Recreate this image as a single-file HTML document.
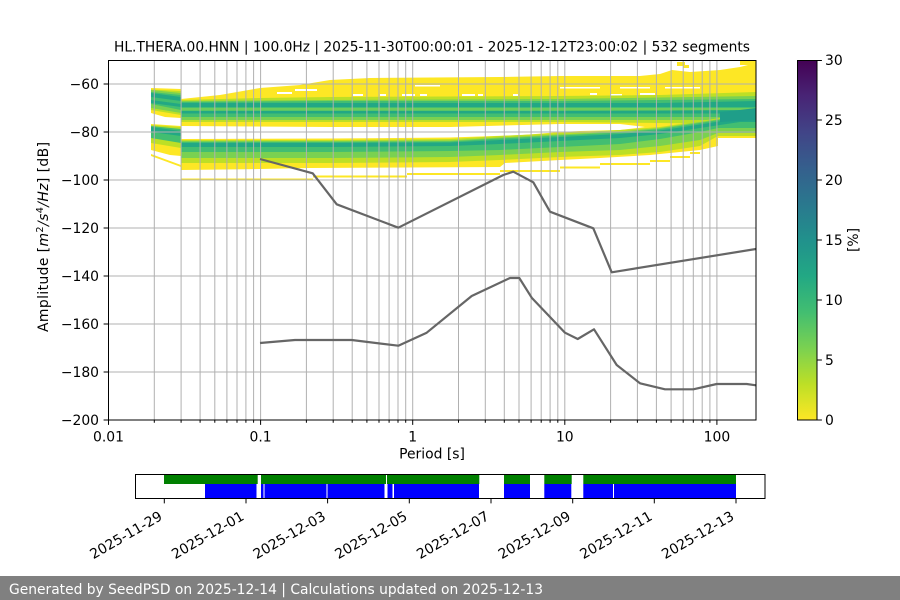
<!DOCTYPE html>
<html><head><meta charset="utf-8">
<style>
html,body{margin:0;padding:0;background:#fff;}
svg{display:block;font-family:"DejaVu Sans","Liberation Sans",sans-serif;}
</style></head><body>
<svg width="900" height="600" viewBox="0 0 900 600" xmlns="http://www.w3.org/2000/svg">
<defs>
<clipPath id="ax"><rect x="108.5" y="60" width="647.5" height="360"/></clipPath>
<linearGradient id="vir" x1="0" y1="1" x2="0" y2="0">
 <stop offset="0" stop-color="#fde725"/>
 <stop offset="0.1" stop-color="#bddf26"/>
 <stop offset="0.2" stop-color="#7ad151"/>
 <stop offset="0.3" stop-color="#42be71"/>
 <stop offset="0.4" stop-color="#22a884"/>
 <stop offset="0.5" stop-color="#21918c"/>
 <stop offset="0.6" stop-color="#2a788e"/>
 <stop offset="0.7" stop-color="#355f8d"/>
 <stop offset="0.8" stop-color="#414487"/>
 <stop offset="0.9" stop-color="#482475"/>
 <stop offset="1" stop-color="#440154"/>
</linearGradient>
</defs>

<!-- Title -->
<text x="432" y="51.5" text-anchor="middle" font-size="13.9" textLength="636" lengthAdjust="spacingAndGlyphs">HL.THERA.00.HNN | 100.0Hz | 2025-11-30T00:00:01 - 2025-12-12T23:00:02 | 532 segments</text>

<!-- PPSD mesh -->
<g clip-path="url(#ax)">
 <!-- yellow envelope main -->
 <polygon fill="#fde725" points="181,99 220,95 260,88 300,85 330,80 370,78 500,77 560,76 640,76 660,74 672,70 690,72 720,70 740,67 756,63 756,138 718,138 718,146 700,150 680,152 650,155 600,158 560,160 505,163 500,167 310,168 260,169 181,170"/>
 <rect x="677" y="62" width="8" height="4" fill="#fde725"/>
 <rect x="683" y="65" width="6" height="3" fill="#fde725"/>
 <rect x="740" y="60" width="16" height="5" fill="#fde725"/>
 <!-- thin yellow line below -->
 <polygon fill="#fde725" points="181,178.5 313,178.5 313,175.5 407,175.5 407,173 500,173 500,170 560,170 560,166.5 600,166.5 600,163 650,163 650,160 670,160 670,156 690,156 690,152 700,152 700,154 690,154 690,158 670,158 670,162 650,162 650,165 600,165 600,168.5 560,168.5 560,172 500,172 500,175 407,175 407,177.5 313,177.5 313,180.5 181,180.5"/>
 <!-- gap -->
 <polygon fill="#fff" points="181,126 330,127 450,127 560,124 620,124 645,127 620,130 580,131 560,132 523,135 450,137.5 330,138.5 181,139"/>
 <!-- white dashes -->
 <g fill="#fff">
  <rect x="277" y="92" width="15" height="2"/>
  <rect x="295" y="89" width="22" height="2"/>
  <rect x="353" y="94" width="10" height="2"/>
  <rect x="380" y="94" width="6" height="2"/>
  <rect x="402" y="94" width="13" height="2"/>
  <rect x="420" y="94" width="7" height="2"/>
  <rect x="415" y="85" width="25" height="1.5"/>
  <rect x="462" y="94" width="13" height="2"/>
  <rect x="478" y="94" width="5" height="2"/>
  <rect x="513" y="94" width="5" height="2"/>
  <rect x="590" y="93" width="7" height="2"/>
  <rect x="560" y="87" width="40" height="1.5"/>
  <rect x="620" y="87" width="30" height="1.5"/>
  <rect x="665" y="87" width="35" height="1.5"/>
  <rect x="610" y="94" width="12" height="2"/>
  <rect x="640" y="93" width="15" height="2"/>
 </g>
 <!-- upper band inner -->
 <polygon fill="#bddf26" points="181,100 260,98 330,97 560,96 660,95 756,92 756,124 660,123 560,122 330,122 181,122"/>
 <polygon fill="#7ad151" points="181,101 330,100 560,99 756,96 756,120 560,120 330,120 181,120"/>
 <polygon fill="#42be71" points="181,102 330,101 560,101 756,99 756,117 560,117 330,117 181,117"/>
 <polygon fill="#22a884" points="181,103 330,103 560,103 660,103 756,101 756,107 660,107 560,107 330,107 181,107"/>
 <polygon fill="#6ccd5a" points="181,108 756,108 756,110.5 181,110.5"/>
 <polygon fill="#22a884" points="181,111 560,111 756,110 756,113.5 560,113.5 181,113.5"/>
 <!-- lower band inner -->
 <polygon fill="#bddf26" points="181,140 330,140 450,139 500,136 560,133 620,130 660,127 700,121 740,115 756,112 756,136 718,136 700,146 660,152 620,155 560,157 500,160 450,162 330,163 181,163"/>
 <polygon fill="#7ad151" points="181,141 330,141 450,140.5 500,137.5 560,134.5 620,131.5 660,128 700,122 740,116 756,113 756,133 718,133 700,140 660,146 620,150 560,152 500,155 450,157 330,158 181,158"/>
 <polygon fill="#42be71" points="181,142 330,142 450,141.5 500,138.5 560,135.5 620,132.5 660,129 700,123 740,116.5 756,113.5 756,128 718,128 700,132 660,139 620,144 560,147 500,150 450,151 330,152 181,152"/>
 <polygon fill="#22a884" points="181,143 330,143 450,142.5 500,140 560,137 620,134 660,130.5 700,124.5 740,118 756,115 756,122 740,122 700,128 660,134 620,138 560,141 500,144 450,146 330,147 181,147"/>
 <polygon fill="#1f9e89" points="720,112 740,110 756,108 756,120 740,121 720,122"/>
 <!-- left block upper -->
 <polygon fill="#fde725" points="151,88 181,89 181,118 165,117 151,113"/>
 <polygon fill="#bddf26" points="151,89.5 181,91 181,115 151,110"/>
 <polygon fill="#7ad151" points="151,90 181,93 181,113 151,108"/>
 <polygon fill="#42be71" points="151,92 181,95 181,110 151,104"/>
 <polygon fill="#22a884" points="151,93 181,97 181,101 151,97"/>
 <polygon fill="#22a884" points="151,100 181,104 181,107 151,103"/>
 <!-- left block lower -->
 <polygon fill="#fde725" points="151,124 181,126 181,156 170,155 151,150"/>
 <polygon fill="#fde725" points="151,154 181,165 181,167 151,156"/>
 <polygon fill="#bddf26" points="151,125 181,127 181,148 151,143"/>
 <polygon fill="#42be71" points="151,126 181,129 181,143 151,138"/>
 <polygon fill="#22a884" points="151,127 181,131 181,136 151,132"/>
</g>

<!-- Grid -->
<g stroke="#b0b0b0" stroke-width="1" fill="none">
 <path d="M154.3 60V420M181.1 60V420M200.1 60V420M214.8 60V420M226.9 60V420M237 60V420M245.9 60V420M253.6 60V420M260.6 60V420
 M306.4 60V420M333.2 60V420M352.2 60V420M366.9 60V420M379 60V420M389.1 60V420M398 60V420M405.7 60V420M412.7 60V420
 M458.5 60V420M485.3 60V420M504.3 60V420M519 60V420M531.1 60V420M541.2 60V420M550.1 60V420M557.8 60V420M564.8 60V420
 M610.6 60V420M637.4 60V420M656.4 60V420M671.1 60V420M683.2 60V420M693.3 60V420M702.2 60V420M709.9 60V420M716.9 60V420"/>
 <path d="M108.5 84H756M108.5 132H756M108.5 180H756M108.5 228H756M108.5 276H756M108.5 324H756M108.5 372H756"/>
</g>

<!-- Noise models -->
<g clip-path="url(#ax)" fill="none" stroke="#666666" stroke-width="2.2" stroke-linejoin="round">
 <polyline points="260,159 312.7,173.3 336.7,204.3 398.3,227.7 503.3,175 513.3,171.7 533.3,182.3 550,211.7 593.3,228.3 611.7,272.3 756,249"/>
 <polyline points="260,343 295,340 351.7,340 398.3,345.7 426.7,332.7 471.7,296 510,278 519.3,278 531.7,297.7 565,332.7 577.7,339 594,329.3 616.7,365 640,383.3 665,389.3 693.3,389.3 716.7,384 746.7,384 756,385.3"/>
</g>

<!-- Axes frame -->
<rect x="108.5" y="60.5" width="647.5" height="359.5" fill="none" stroke="#000" stroke-width="1"/>

<!-- x ticks -->
<g stroke="#000" stroke-width="1">
 <path d="M108.5 420v4.9M260.6 420v4.9M412.7 420v4.9M564.8 420v4.9M716.9 420v4.9"/>
 <path d="M154.3 420v2.8M181.1 420v2.8M200.1 420v2.8M214.8 420v2.8M226.9 420v2.8M237 420v2.8M245.9 420v2.8M253.6 420v2.8
 M306.4 420v2.8M333.2 420v2.8M352.2 420v2.8M366.9 420v2.8M379 420v2.8M389.1 420v2.8M398 420v2.8M405.7 420v2.8
 M458.5 420v2.8M485.3 420v2.8M504.3 420v2.8M519 420v2.8M531.1 420v2.8M541.2 420v2.8M550.1 420v2.8M557.8 420v2.8
 M610.6 420v2.8M637.4 420v2.8M656.4 420v2.8M671.1 420v2.8M683.2 420v2.8M693.3 420v2.8M702.2 420v2.8M709.9 420v2.8"/>
 <path d="M103.6 84h4.9M103.6 132h4.9M103.6 180h4.9M103.6 228h4.9M103.6 276h4.9M103.6 324h4.9M103.6 372h4.9M103.6 420h4.9"/>
</g>
<g font-size="13.9" fill="#000" text-anchor="middle">
 <text x="108.5" y="441.5">0.01</text>
 <text x="260.6" y="441.5">0.1</text>
 <text x="412.7" y="441.5">1</text>
 <text x="564.8" y="441.5">10</text>
 <text x="716.9" y="441.5">100</text>
 <text x="432" y="458.5">Period [s]</text>
</g>
<g font-size="13.9" fill="#000" text-anchor="end">
 <text x="99" y="89">−60</text>
 <text x="99" y="137">−80</text>
 <text x="99" y="185">−100</text>
 <text x="99" y="233">−120</text>
 <text x="99" y="281">−140</text>
 <text x="99" y="329">−160</text>
 <text x="99" y="377">−180</text>
 <text x="99" y="425">−200</text>
</g>
<text transform="translate(48,237) rotate(-90)" text-anchor="middle" font-size="13.9" textLength="190" lengthAdjust="spacing">Amplitude [<tspan font-style="italic">m</tspan><tspan font-size="9.7" dy="-5">2</tspan><tspan font-style="italic" dy="5">/s</tspan><tspan font-size="9.7" dy="-5">4</tspan><tspan font-style="italic" dy="5">/Hz</tspan>] [dB]</text>

<!-- Colorbar -->
<rect x="797" y="60" width="20" height="360" fill="url(#vir)"/>
<rect x="797.5" y="60.5" width="19.5" height="359.5" fill="none" stroke="#000" stroke-width="1"/>
<g stroke="#000" stroke-width="1">
 <path d="M817 420h4.9M817 360h4.9M817 300h4.9M817 240h4.9M817 180h4.9M817 120h4.9M817 60.5h4.9"/>
</g>
<g font-size="13.9" fill="#000">
 <text x="825" y="425">0</text>
 <text x="825" y="365">5</text>
 <text x="825" y="305">10</text>
 <text x="825" y="245">15</text>
 <text x="825" y="185">20</text>
 <text x="825" y="125">25</text>
 <text x="825" y="65">30</text>
</g>
<text transform="translate(858,240) rotate(-90)" text-anchor="middle" font-size="13.9">[%]</text>

<!-- Timeline -->
<g fill="#008000">
 <rect x="164" y="474.5" width="93.7" height="9.5"/>
 <rect x="261" y="474.5" width="125" height="9.5"/>
 <rect x="387" y="474.5" width="92.3" height="9.5"/>
 <rect x="504" y="474.5" width="26" height="9.5"/>
 <rect x="544.3" y="474.5" width="27.4" height="9.5"/>
 <rect x="583.3" y="474.5" width="152.7" height="9.5"/>
</g>
<g fill="#0000ff">
 <rect x="205" y="484" width="51.5" height="14.5"/>
 <rect x="261" y="484" width="2.5" height="14.5"/>
 <rect x="264.5" y="484" width="62" height="14.5"/>
 <rect x="327.5" y="484" width="57" height="14.5"/>
 <rect x="387.5" y="484" width="5" height="14.5"/>
 <rect x="394" y="484" width="85" height="14.5"/>
 <rect x="504" y="484" width="26" height="14.5"/>
 <rect x="544.3" y="484" width="27" height="14.5"/>
 <rect x="583.3" y="484" width="29.7" height="14.5"/>
 <rect x="614" y="484" width="122" height="14.5"/>
</g>
<rect x="135.5" y="474.5" width="629.5" height="24" fill="none" stroke="#000" stroke-width="1"/>
<g stroke="#000" stroke-width="1">
 <path d="M164.3 498.5v4.9M246 498.5v4.9M327.6 498.5v4.9M409.3 498.5v4.9M491 498.5v4.9M572.7 498.5v4.9M654.3 498.5v4.9M736 498.5v4.9"/>
</g>
<g font-size="13.9" fill="#000" text-anchor="end">
 <text transform="translate(163.3,519) rotate(-30)">2025-11-29</text>
 <text transform="translate(245,519) rotate(-30)">2025-12-01</text>
 <text transform="translate(326.6,519) rotate(-30)">2025-12-03</text>
 <text transform="translate(408.3,519) rotate(-30)">2025-12-05</text>
 <text transform="translate(490,519) rotate(-30)">2025-12-07</text>
 <text transform="translate(571.7,519) rotate(-30)">2025-12-09</text>
 <text transform="translate(653.3,519) rotate(-30)">2025-12-11</text>
 <text transform="translate(735,519) rotate(-30)">2025-12-13</text>
</g>

<!-- Footer -->
<rect x="0" y="576" width="900" height="24" fill="#808080"/>
<text x="9" y="594" font-size="13.9" fill="#ffffff" textLength="534" lengthAdjust="spacingAndGlyphs">Generated by SeedPSD on 2025-12-14 | Calculations updated on 2025-12-13</text>
</svg>
</body></html>
